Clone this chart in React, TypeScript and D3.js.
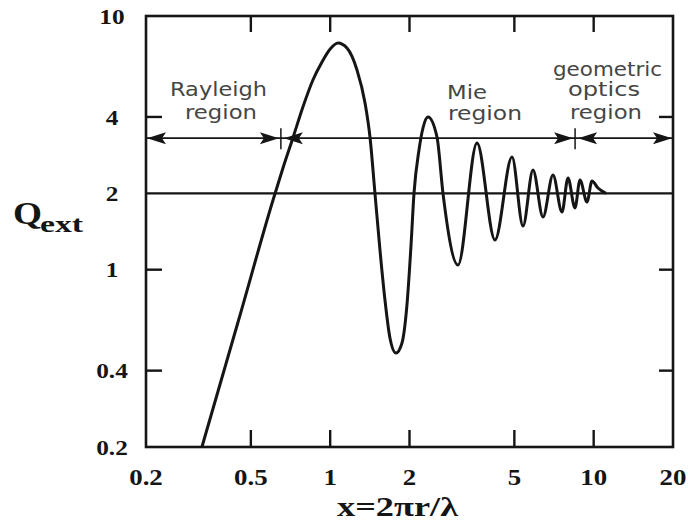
import React from "react";
import * as d3 from "d3";

// ---- data ----
const xTicks = [0.2, 0.5, 1, 2, 5, 10, 20];
const xTickLabels = ["0.2", "0.5", "1", "2", "5", "10", "20"];
const yTicks = [0.2, 0.4, 1, 2, 4, 10];
const yTickLabels = ["0.2", "0.4", "1", "2", "4", "10"];
const xInnerTicks = [0.5, 1, 2, 5, 10];
const yInnerTicks = [0.4, 1, 4];

const curveX = [
  0.326, 0.455, 0.607, 0.662, 0.722, 0.788, 0.86, 0.931, 1.0, 1.071, 1.158, 1.264,
  1.356, 1.416, 1.479, 1.545, 1.614, 1.686, 1.777, 1.873, 1.956, 2.027, 2.08, 2.173,
  2.25, 2.351, 2.543, 2.68, 3.055, 3.607, 4.221, 4.898, 5.393, 5.884, 6.422, 7.008,
  7.581, 7.989, 8.492, 8.872, 9.432, 9.854, 10.38, 11.13,
];
const curveQ = [
  0.2, 0.663, 1.883, 2.517, 3.305, 4.378, 5.594, 6.587, 7.413, 7.826, 7.478, 6.126,
  4.541, 3.334, 2.0, 1.196, 0.76, 0.538, 0.469, 0.514, 0.726, 1.251, 2.0, 2.964,
  3.618, 4.0, 3.334, 2.0, 1.043, 3.158, 1.309, 2.781, 1.487, 2.472, 1.613, 2.362,
  1.688, 2.299, 1.751, 2.257, 1.848, 2.237, 2.099, 2.0,
];

const regionBounds = [0.65, 8.5];
const arrowLevel = 3.3;
const referenceLevel = 2;

const W = 688;
const H = 529;
const plot = { left: 146, right: 673, top: 16, bottom: 447 };

const serif = "'Liberation Serif', 'Times New Roman', serif";
const sans = "'DejaVu Sans', 'Noto Sans', sans-serif";

export default function App() {
  const x = d3.scaleLog().domain([0.2, 20]).range([plot.left, plot.right]);
  const y = d3.scaleLog().domain([0.2, 10]).range([plot.bottom, plot.top]);

  const pts = curveX.map((v, i) => [x(v), y(curveQ[i])] as [number, number]);
  const line = d3.line().curve(d3.curveMonotoneX);
  const curvePath = line(pts) || "";

  const ay = y(arrowLevel);
  const ink = "#151515";

  const arrow = (tip: number, dir: number, key: string) => {
    const len = 19;
    const hw = 6;
    const base = tip - dir * len;
    return (
      <path
        key={key}
        d={`M${tip},${ay} L${base},${ay - hw} L${base + dir * 4},${ay} L${base},${ay + hw} Z`}
        fill={ink}
      />
    );
  };

  const annot = [
    { t: "Rayleigh", x: 170, y: 96, w: 97 },
    { t: "region", x: 185, y: 119, w: 72 },
    { t: "Mie", x: 447, y: 99, w: 40 },
    { t: "region", x: 448, y: 120, w: 74 },
    { t: "geometric", x: 553, y: 76, w: 109 },
    { t: "optics", x: 568, y: 96, w: 72 },
    { t: "region", x: 570, y: 119, w: 72 },
  ];

  return (
    <svg
      width={W}
      height={H}
      style={{ position: "absolute", left: 0, top: 0, background: "#fff" }}
    >
      {/* reference line at Q=2 */}
      <line x1={plot.left} x2={plot.right} y1={y(referenceLevel)} y2={y(referenceLevel)} stroke={ink} strokeWidth={2.2} />
      {/* region arrow line */}
      <line x1={plot.left} x2={plot.right} y1={ay} y2={ay} stroke={ink} strokeWidth={1.8} />
      {arrow(plot.left + 1, -1, "a0")}
      {arrow(x(regionBounds[0]) - 2, 1, "a1")}
      {arrow(x(regionBounds[0]) + 3, -1, "a2")}
      {arrow(x(regionBounds[1]) - 2, 1, "a3")}
      {arrow(x(regionBounds[1]) + 3, -1, "a4")}
      {arrow(plot.right - 1, 1, "a5")}
      {regionBounds.map((b, i) => (
        <line key={"b" + i} x1={x(b)} x2={x(b)} y1={ay - 10} y2={ay + 11} stroke={ink} strokeWidth={1.5} />
      ))}

      {/* inner ticks */}
      {xInnerTicks.map((t) => (
        <g key={"xt" + t}>
          <line x1={x(t)} x2={x(t)} y1={plot.top} y2={plot.top + 16} stroke={ink} strokeWidth={2.4} />
          <line x1={x(t)} x2={x(t)} y1={plot.bottom} y2={plot.bottom - 17} stroke={ink} strokeWidth={2.4} />
        </g>
      ))}
      {yInnerTicks.map((t) => (
        <g key={"yt" + t}>
          <line x1={plot.left} x2={plot.left + 16} y1={y(t)} y2={y(t)} stroke={ink} strokeWidth={2.4} />
          <line x1={plot.right} x2={plot.right - 14} y1={y(t)} y2={y(t)} stroke={ink} strokeWidth={2.4} />
        </g>
      ))}

      {/* frame */}
      <rect
        x={plot.left}
        y={plot.top}
        width={plot.right - plot.left}
        height={plot.bottom - plot.top}
        fill="none"
        stroke={ink}
        strokeWidth={2.6}
      />

      {/* curve */}
      <path d={curvePath} fill="none" stroke={ink} strokeWidth={3} strokeLinejoin="round" />

      {/* annotations */}
      {annot.map((a, i) => (
        <text
          key={"an" + i}
          x={a.x}
          y={a.y}
          fontFamily={sans}
          fontSize={19}
          fill="#454545"
          textLength={a.w}
          lengthAdjust="spacingAndGlyphs"
        >
          {a.t}
        </text>
      ))}

      {/* y tick labels */}
      {yTicks.map((t, i) => (
        <g key={"yl" + t} transform={`translate(112,${y(t)}) scale(1.15,1)`}>
          <text
            x={0}
            y={0}
            dy="0.35em"
            textAnchor="middle"
            fontFamily={serif}
            fontWeight="bold"
            fontSize={22}
            fill={ink}
          >
            {yTickLabels[i]}
          </text>
        </g>
      ))}

      {/* x tick labels */}
      {xTicks.map((t, i) => (
        <g key={"xl" + t} transform={`translate(${x(t)},485) scale(1.12,1)`}>
          <text x={0} y={0} textAnchor="middle" fontFamily={serif} fontWeight="bold" fontSize={24} fill={ink}>
            {xTickLabels[i]}
          </text>
        </g>
      ))}

      {/* axis titles */}
      <text x={13} y={224} fontFamily={serif} fontWeight="bold" fontSize={32} fill={ink} textLength={29} lengthAdjust="spacingAndGlyphs">
        Q
      </text>
      <text x={40} y={232} fontFamily={serif} fontWeight="bold" fontSize={24} fill={ink} textLength={43} lengthAdjust="spacingAndGlyphs">
        ext
      </text>
      <text x={337} y={516} fontFamily={serif} fontWeight="bold" fontSize={28} fill={ink} textLength={121} lengthAdjust="spacingAndGlyphs">
        x=2πr/λ
      </text>
    </svg>
  );
}
